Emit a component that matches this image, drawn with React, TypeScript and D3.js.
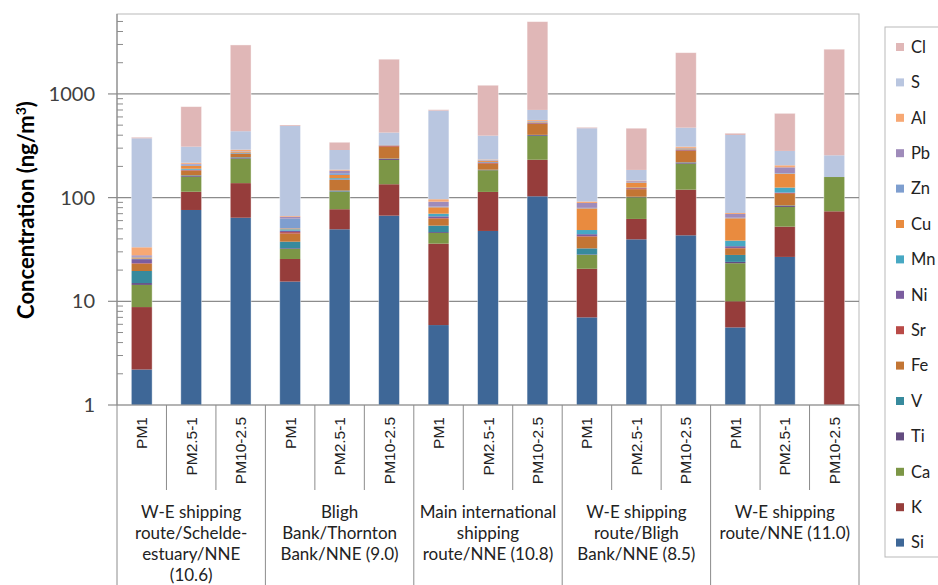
import React from 'react';
import * as d3 from 'd3';

// stacking order, bottom to top
const elements = ['Si', 'K', 'Ca', 'Ti', 'V', 'Fe', 'Sr', 'Ni', 'Mn', 'Cu', 'Zn', 'Pb', 'Al', 'S', 'Cl'];

const fractions = ['PM1', 'PM2.5-1', 'PM10-2.5'];
const groupLabels = [
  ['W-E shipping', 'route/Schelde-', 'estuary/NNE', '(10.6)'],
  ['Bligh', 'Bank/Thornton', 'Bank/NNE (9.0)'],
  ['Main international', 'shipping', 'route/NNE (10.8)'],
  ['W-E shipping', 'route/Bligh', 'Bank/NNE (8.5)'],
  ['W-E shipping', 'route/NNE (11.0)'],
];

// ng/m3, one value per bar (5 groups x 3 fractions)
const si = [2.2, 76, 64, 15.5, 49.5, 67, 5.9, 47.7, 103, 7, 39.6, 43.3, 5.6, 26.8, 0];
const k = [6.6, 38, 74, 10.1, 27.8, 67.6, 30.1, 65.8, 129, 13.6, 22.7, 76.1, 4.4, 25.7, 73.8];
const ca = [5.6, 45, 100, 6.4, 36.7, 96.4, 9.6, 70.2, 161, 7.4, 38.5, 93.3, 13.3, 28.8, 84.2];
const ti = [0.6, 3, 4, 0.5, 1, 5, 0.9, 1.3, 7, 0.3, 0.7, 4.3, 0.7, 1.7, 0];
const v = [4.6, 2, 3, 5.1, 2, 2, 7.2, 1, 3, 4.1, 0.5, 2, 4, 1, 0];
const fe = [3.4, 18, 19, 7.4, 31, 72, 9, 26.7, 110, 9.6, 18.6, 63, 4.4, 25, 0];
const sr = [0.3, 2, 2, 1.5, 1, 6, 0.8, 4.3, 7, 0.5, 2.4, 4, 0.3, 2, 0];
const ni = [2.2, 2, 1, 1.5, 1, 1, 2.5, 2, 5, 1.9, 1, 4, 1.3, 1, 0];
const mn = [0.3, 4, 4, 1.5, 4, 1, 4, 2, 5, 4.3, 1, 2, 4.5, 13, 0];
const cu = [0.7, 13, 5, 1, 11.5, 1, 10.7, 5, 10, 30, 14.6, 6, 24.7, 45, 0];
const zn = [0.4, 5, 2, 12.2, 6.5, 1, 1.3, 2, 5, 1, 1.4, 2, 0.8, 2, 0];
const pb = [0.9, 4, 2, 2.8, 10, 1, 9.4, 2, 5, 9, 3, 2, 5.5, 24, 0];
const al = [5.4, 5, 10, 1, 4, 1, 5.1, 3, 11, 3, 2, 8, 1.5, 9, 0];
const s = [340, 93, 147, 424, 102, 102, 593, 163, 140, 375, 39, 163, 331, 77, 98];
const cl = [9, 444, 2530, 11, 54, 1738, 16, 817, 4279, 10, 282, 2027, 16, 368, 2444];

const series = { Si: si, K: k, Ca: ca, Ti: ti, V: v, Fe: fe, Sr: sr, Ni: ni, Mn: mn, Cu: cu, Zn: zn, Pb: pb, Al: al, S: s, Cl: cl };

const colors: Record<string, string> = {
  Si: '#3e6797', K: '#963d3b', Ca: '#7c9646', Ti: '#634c80', V: '#378a9d', Fe: '#c37534',
  Sr: '#b94a47', Ni: '#7b5d9f', Mn: '#47a8c3', Cu: '#e98b3f', Zn: '#7e9ecf', Pb: '#9f8bba',
  Al: '#f7a874', S: '#b9c6e0', Cl: '#e0b7b7',
};

const majorTicks = [1, 10, 100, 1000];

const W = 938, H = 585;
const L = 117, R = 859, T = 14, B = 405;

export default function App() {
  const n = si.length;
  const idx = d3.range(n);
  const rows = idx.map(i => {
    const r: any = { i };
    elements.forEach(e => { r[e] = (series as any)[e][i]; });
    return r;
  });
  const stacked = d3.stack<any>().keys(elements)(rows);

  const x = d3.scaleBand<number>().domain(idx).range([L, R]).paddingInner(0.58).paddingOuter(0.29);
  const xs = d3.scaleBand<number>().domain(idx).range([L, R]);
  const y = d3.scaleLog().domain([1, 5900]).range([B, T]);

  const minor: number[] = [];
  [1, 10, 100, 1000].forEach(d => d3.range(2, 10).forEach(m => { if (d * m < 5900) minor.push(d * m); }));

  const legendTop = 47, legendGap = 35.4;
  const legendItems = elements.slice().reverse();

  return (
    <svg width={W} height={H} style={{ position: 'absolute', left: 0, top: 0, background: '#fff' }}>
      {/* plot frame and gridlines */}
      <rect x={L} y={T} width={R - L} height={B - T} fill="none" stroke="#b9b9b9" />
      {majorTicks.slice(1).map(t => (
        <line key={t} x1={L} x2={R} y1={y(t)} y2={y(t)} stroke="#8c8c8c" strokeWidth={1.2} />
      ))}

      {/* bars */}
      {stacked.map(layer => (
        <g key={layer.key} fill={colors[layer.key]}>
          {layer.map((d, i) => {
            const y0 = y(Math.max(d[0], 1));
            const y1 = y(Math.max(d[1], 1));
            if (y0 - y1 <= 0) return null;
            return <rect key={i} x={x(i)} width={x.bandwidth()} y={y1} height={y0 - y1} />;
          })}
        </g>
      ))}
      {idx.map(i => {
        const top = stacked[stacked.length - 1][i][1];
        return (
          <rect key={i} x={x(i)} width={x.bandwidth()} y={y(top)} height={B - y(top)}
            fill="none" stroke="#ffffff" strokeOpacity={0.5} strokeWidth={0.8} />
        );
      })}

      {/* y axis */}
      <line x1={L} x2={L} y1={T} y2={B} stroke="#8c8c8c" strokeWidth={1.2} />
      {majorTicks.map(t => (
        <g key={t}>
          <line x1={L - 9} x2={L} y1={y(t)} y2={y(t)} stroke="#8c8c8c" strokeWidth={1.2} />
          <text x={95} y={y(t)} dy="0.35em" textAnchor="end" fontFamily="Lato, sans-serif" fontSize={20} fill="#404040">{t}</text>
        </g>
      ))}
      {minor.map(t => (
        <line key={t} x1={L} x2={L + 6} y1={y(t)} y2={y(t)} stroke="#8c8c8c" />
      ))}
      <text transform={`translate(34, 210) rotate(-90)`} textAnchor="middle" fontFamily="Lato, sans-serif"
        fontWeight="bold" fontSize={22} fill="#000">
        Concentration (ng/m<tspan dy={-8} fontSize={14}>3</tspan><tspan dy={8}>)</tspan>
      </text>

      {/* x axis */}
      <line x1={L} x2={R} y1={B} y2={B} stroke="#8c8c8c" strokeWidth={1.2} />
      {d3.range(n + 1).map(i => {
        const xx = i < n ? xs(i)! : R;
        const long = i % 3 === 0;
        return <line key={i} x1={xx} x2={xx} y1={B} y2={long ? H : 490} stroke="#8c8c8c" strokeWidth={1} />;
      })}
      {idx.map(i => (
        <text key={i} transform={`translate(${x(i)! + x.bandwidth() / 2 + 5.5}, 417) rotate(-90)`} textAnchor="end"
          fontFamily="'Liberation Sans', Arial, sans-serif" fontSize={15.5} fill="#222">
          {fractions[i % 3]}
        </text>
      ))}
      {groupLabels.map((lines, g) => {
        const cx = xs(g * 3)! + xs.step() * 1.5;
        return (
          <text key={g} textAnchor="middle" fontFamily="Lato, sans-serif" fontSize={17} fill="#222">
            {lines.map((ln, j) => (
              <tspan key={j} x={cx} y={518 + j * 21}>{ln}</tspan>
            ))}
          </text>
        );
      })}

      {/* legend */}
      <rect x={885} y={27} width={60} height={530} fill="#fff" stroke="#b9b9b9" />
      {legendItems.map((e, j) => (
        <g key={e} transform={`translate(896, ${legendTop + j * legendGap})`}>
          <rect x={0} y={-4} width={8} height={8} fill={colors[e]} />
          <text x={15} y={0} dy="0.35em" fontFamily="Lato, sans-serif" fontSize={16.5} fill="#222">{e}</text>
        </g>
      ))}
    </svg>
  );
}
